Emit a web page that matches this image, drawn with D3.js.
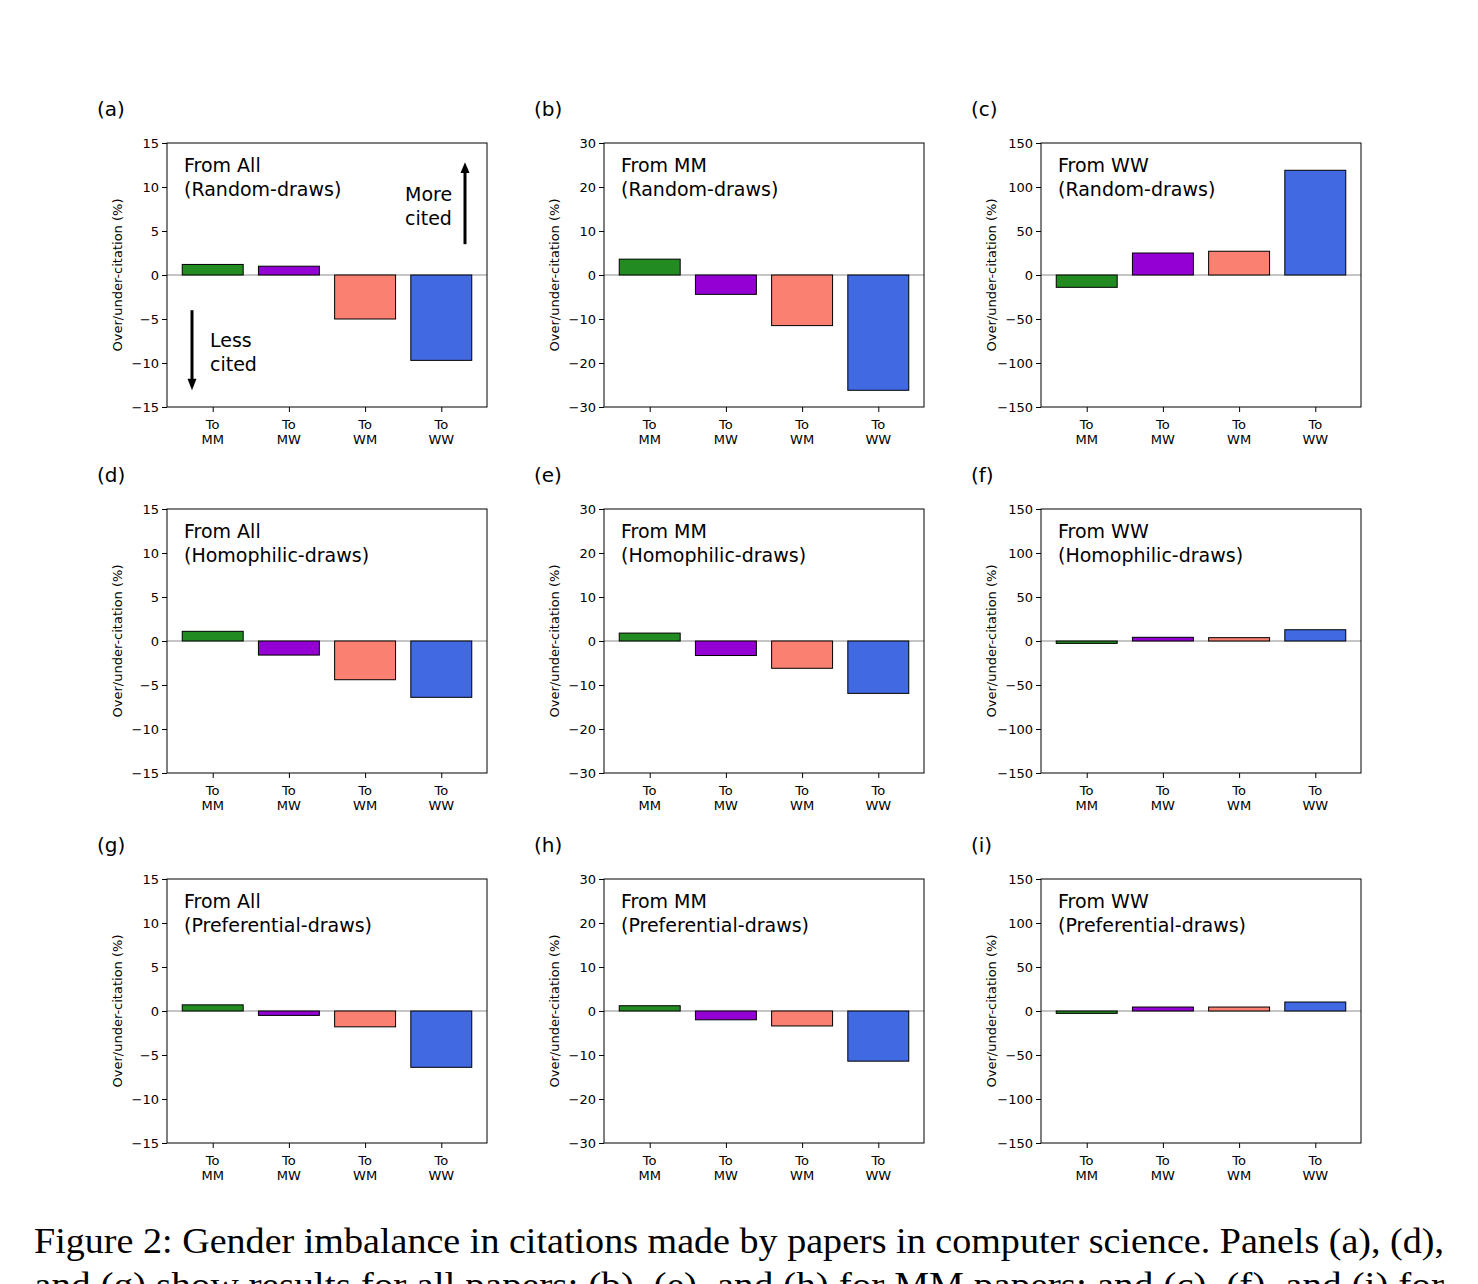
<!DOCTYPE html>
<html><head><meta charset="utf-8">
<script src="https://cdn.jsdelivr.net/npm/d3@7"></script>
<style>body{margin:0;background:#fff}svg{display:block}</style>
</head><body>
<script>
const categories = ["MM", "MW", "WM", "WW"];
const barColors = ["#228B22", "#9400D3", "#FA8072", "#4169E1"];
const panelLabels = ["(a)", "(b)", "(c)", "(d)", "(e)", "(f)", "(g)", "(h)", "(i)"];
const fromLabels = ["From All", "From MM", "From WW"];
const drawLabels = ["(Random-draws)", "(Homophilic-draws)", "(Preferential-draws)"];
const yLimits = [15, 30, 150];
const yTicks = [[-15, -10, -5, 0, 5, 10, 15], [-30, -20, -10, 0, 10, 20, 30], [-150, -100, -50, 0, 50, 100, 150]];
const randomAll = [1.2, 1.0, -5.0, -9.7];
const randomMM = [3.6, -4.4, -11.5, -26.2];
const randomWW = [-14, 25, 27, 119];
const homophilicAll = [1.1, -1.6, -4.4, -6.4];
const homophilicMM = [1.8, -3.3, -6.2, -11.9];
const homophilicWW = [-2.7, 4.2, 3.8, 12.8];
const preferentialAll = [0.7, -0.5, -1.8, -6.4];
const preferentialMM = [1.2, -2.0, -3.4, -11.4];
const preferentialWW = [-2.7, 4.5, 4.5, 10.2];
const values = [
  [randomAll, randomMM, randomWW],
  [homophilicAll, homophilicMM, homophilicWW],
  [preferentialAll, preferentialMM, preferentialWW]
];
const captionLine1 = "Figure 2:  Gender imbalance in citations made by papers in computer science.  Panels (a), (d),";
const captionLine2 = "and (g) show results for all papers; (b), (e), and (h) for MM papers; and (c), (f), and (i) for";

const W = 1478, H = 1284;
const svg = d3.select("body").append("svg").attr("width", W).attr("height", H)
  .style("font-family", "'DejaVu Sans', sans-serif");

const colX = [167, 604, 1041];
const rowY = [143, 509, 879];
const pw = 320, ph = 264;

for (let r = 0; r < 3; r++) {
  for (let c = 0; c < 3; c++) {
    const g = svg.append("g").attr("transform", `translate(${colX[c]},${rowY[r]})`);
    const x = d3.scaleLinear().domain([-0.6, 3.6]).range([0, pw]);
    const y = d3.scaleLinear().domain([-yLimits[c], yLimits[c]]).range([ph, 0]);
    const vals = values[r][c];
    g.append("line").attr("x1", 0).attr("x2", pw).attr("y1", y(0)).attr("y2", y(0))
      .attr("stroke", "#808080").attr("stroke-width", 0.9);
    g.selectAll("rect.bar").data(vals).join("rect").attr("class", "bar")
      .attr("x", (d, i) => x(i - 0.4))
      .attr("width", (d, i) => x(i + 0.4) - x(i - 0.4))
      .attr("y", d => y(Math.max(0, d)))
      .attr("height", d => Math.abs(y(d) - y(0)))
      .attr("fill", (d, i) => barColors[i])
      .attr("stroke", "#000").attr("stroke-width", 1);
    const ya = d3.axisLeft(y).tickValues(yTicks[c]).tickSize(5).tickPadding(3)
      .tickFormat(d => d < 0 ? "\u2212" + Math.abs(d) : String(d));
    const yg = g.append("g").call(ya);
    yg.select(".domain").remove();
    yg.selectAll("text").attr("font-size", 13).attr("fill", "#000").style("font-family", "'DejaVu Sans', sans-serif");
    yg.selectAll("line").attr("stroke", "#000");
    const xa = d3.axisBottom(x).tickValues([0, 1, 2, 3]).tickSize(5).tickFormat("");
    const xg = g.append("g").attr("transform", `translate(0,${ph})`).call(xa);
    xg.select(".domain").remove();
    xg.selectAll("line").attr("stroke", "#000");
    categories.forEach((cat, i) => {
      const t = g.append("text").attr("x", x(i)).attr("y", ph + 22).attr("text-anchor", "middle")
        .attr("font-size", 13).attr("fill", "#000");
      t.append("tspan").attr("x", x(i)).attr("dy", 0).text("To");
      t.append("tspan").attr("x", x(i)).attr("dy", 15).text(cat);
    });
    g.append("rect").attr("width", pw).attr("height", ph).attr("fill", "none")
      .attr("stroke", "#000").attr("stroke-width", 1);
    g.append("text").attr("transform", `translate(${-45},${ph / 2}) rotate(-90)`)
      .attr("text-anchor", "middle").attr("font-size", 13).attr("fill", "#000")
      .text("Over/under-citation (%)");
    g.append("text").attr("x", 17).attr("y", 29).attr("font-size", 19).attr("fill", "#000").text(fromLabels[c]);
    g.append("text").attr("x", 17).attr("y", 53).attr("font-size", 19).attr("fill", "#000").text(drawLabels[r]);
    svg.append("text").attr("x", colX[c] - 70).attr("y", rowY[r] - 27).attr("font-size", 20).attr("fill", "#000")
      .text(panelLabels[r * 3 + c]);

    if (r === 0 && c === 0) {
      const ax = 298;
      g.append("line").attr("x1", ax).attr("x2", ax).attr("y1", y(3.5)).attr("y2", y(11.8))
        .attr("stroke", "#000").attr("stroke-width", 3);
      g.append("path").attr("d", `M${ax - 4.5},${y(11.6)} L${ax},${y(12.8)} L${ax + 4.5},${y(11.6)} Z`).attr("fill", "#000");
      g.append("text").attr("x", 238).attr("y", 58).attr("font-size", 19).text("More");
      g.append("text").attr("x", 238).attr("y", 82).attr("font-size", 19).text("cited");
      const bx = 25;
      g.append("line").attr("x1", bx).attr("x2", bx).attr("y1", y(-4)).attr("y2", y(-12.0))
        .attr("stroke", "#000").attr("stroke-width", 3);
      g.append("path").attr("d", `M${bx - 4.5},${y(-11.8)} L${bx},${y(-13.1)} L${bx + 4.5},${y(-11.8)} Z`).attr("fill", "#000");
      g.append("text").attr("x", 43).attr("y", 204).attr("font-size", 19).text("Less");
      g.append("text").attr("x", 43).attr("y", 228).attr("font-size", 19).text("cited");
    }
  }
}

const cap = svg.append("g").style("font-family", "'Liberation Serif', 'DejaVu Serif', serif");
cap.append("text").attr("x", 34).attr("y", 1253).attr("font-size", 35)
  .attr("textLength", 1410).attr("lengthAdjust", "spacingAndGlyphs").text(captionLine1);
cap.append("text").attr("x", 34).attr("y", 1297).attr("font-size", 35)
  .attr("textLength", 1410).attr("lengthAdjust", "spacingAndGlyphs").text(captionLine2);
</script>
</body></html>
